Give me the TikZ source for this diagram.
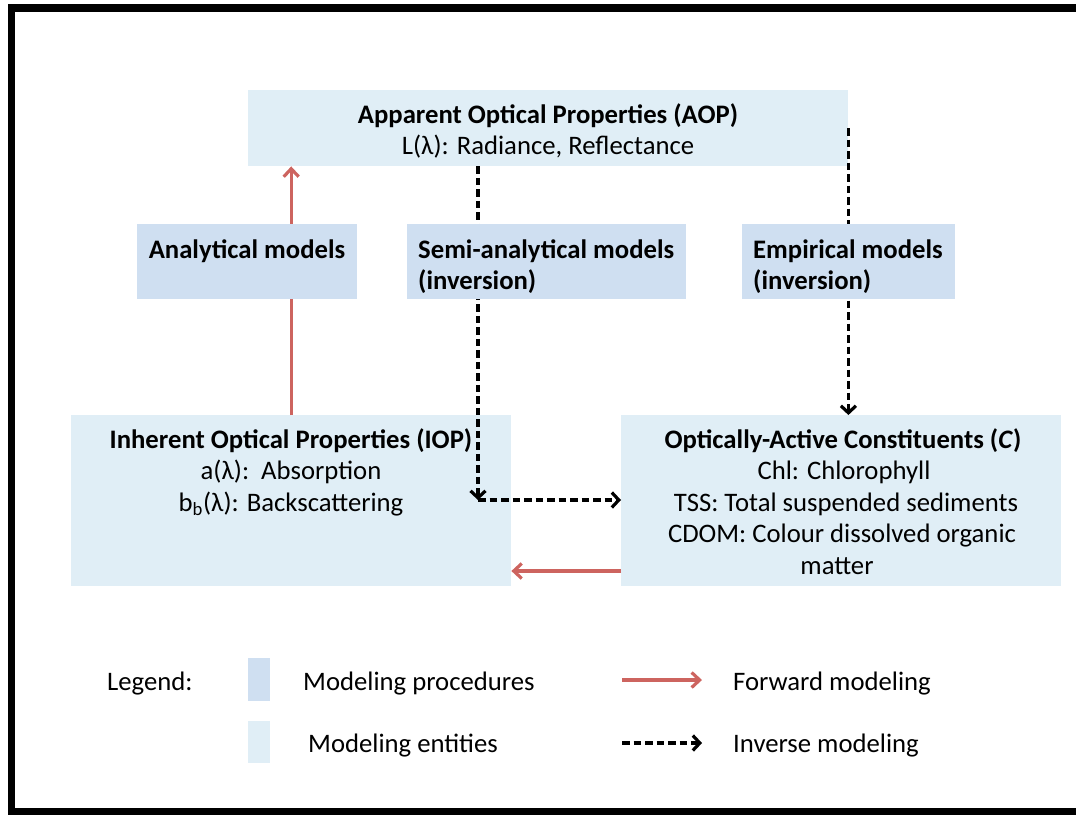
\documentclass[tikz,border=0pt]{standalone}
\usepackage{fontspec}
\setmainfont{Carlito}
\usetikzlibrary{arrows.meta}
\definecolor{procfill}{RGB}{207,223,241}
\definecolor{entfill}{RGB}{224,238,246}
\definecolor{fwdred}{RGB}{205,100,95}
\begin{document}
\begin{tikzpicture}[x=1pt,y=-1pt,
  entity/.style={fill=entfill, draw=none, inner sep=0, anchor=north west},
  proc/.style={fill=procfill, draw=none, inner sep=0, anchor=north west},
  txt/.style={inner sep=0, font=\fontsize{26.7}{31}\selectfont},
  bold/.style={inner sep=0, font=\fontsize{26.7}{31}\selectfont\bfseries},
  fwd/.style={draw=fwdred, line width=3.2pt, -{Straight Barb[length=8pt,width=15pt]}},
  inv/.style={draw=black, line width=3.2pt, dash pattern=on 7.5pt off 4pt, -{Straight Barb[length=7pt,width=15pt]}}]
\useasboundingbox (0,0) rectangle (1076,814);
\draw[line width=7.5pt] (11.5,8) rectangle (1100,812);

% entity boxes
\node[entity, minimum width=600, minimum height=76] (aop) at (248,90) {};
\node[entity, minimum width=440, minimum height=171] (iop) at (71,415) {};
\node[entity, minimum width=440, minimum height=171] (oac) at (621,415) {};

% connectors
\coordinate (corner) at (478,500);
\draw[fwd] (iop.north) -- (iop.north |- aop.south);
\draw[fwd] (oac.west |- 0,571) -- (iop.east |- 0,571);
\draw[inv] (aop.south -| corner) -- (corner);
\draw[inv] (corner) -- (oac.west |- corner);
\draw[inv] (aop.east) -- (aop.east |- oac.north);

% procedure boxes
\node[proc, minimum width=220, minimum height=75] (ana) at (137,224) {};
\node[proc, minimum width=279, minimum height=75] (semi) at (407,224) {};
\node[proc, minimum width=213, minimum height=75] (emp) at (742,224) {};

% texts
\node[bold, anchor=base] (aopt) at (548,123.5) {Apparent Optical Properties (AOP)};
\node[txt, anchor=base] (aopl) at (548,154) {L(λ): Radiance, Reflectance};
\node[bold, anchor=base] (anat) at (247,258) {Analytical models};
\node[bold, anchor=base west] (semit) at (418,258) {Semi-analytical models};
\node[bold, anchor=base west] (semit2) at (418,289) {(inversion)};
\node[bold, anchor=base west] (empt) at (753,258) {Empirical models};
\node[bold, anchor=base west] (empt2) at (753,289) {(inversion)};
\node[bold, anchor=base] (iopt) at (291,448) {Inherent Optical Properties (IOP)};
\node[txt, anchor=base] (iopa) at (291,479.5) {a(λ):\ \ Absorption};
\node[txt, anchor=base] (iopb) at (291,511) {b\textsubscript{b}(λ): Backscattering};
\node[bold, anchor=base] (oact) at (843,448) {Optically-Active Constituents (\textit{C})};
\node[txt, anchor=base] (oac1) at (844,479.5) {Chl: Chlorophyll};
\node[txt, anchor=base] (oac2) at (846,511) {TSS: Total suspended sediments};
\node[txt, anchor=base] (oac3) at (842,542.5) {CDOM: Colour dissolved organic};
\node[txt, anchor=base] (oac4) at (837,574) {matter};

% legend
\node[txt, anchor=base west] (leg) at (107,690) {Legend:};
\node[proc, minimum width=22, minimum height=43] (legp) at (248,658) {};
\node[entity, minimum width=22, minimum height=42] (lege) at (248,721) {};
\node[txt, anchor=base west] (legpt) at (303,690) {Modeling procedures};
\node[txt, anchor=base west] (leget) at (308,752) {Modeling entities};
\coordinate (f1) at (622,680);
\coordinate (f2) at (702,680);
\coordinate (i1) at (622,743);
\coordinate (i2) at (702,743);
\draw[fwd] (f1) -- (f2);
\draw[inv] (i1) -- (i2);
\node[txt, anchor=base west] (legft) at (733,690) {Forward modeling};
\node[txt, anchor=base west] (legit) at (733,752) {Inverse modeling};
\end{tikzpicture}
\end{document}
